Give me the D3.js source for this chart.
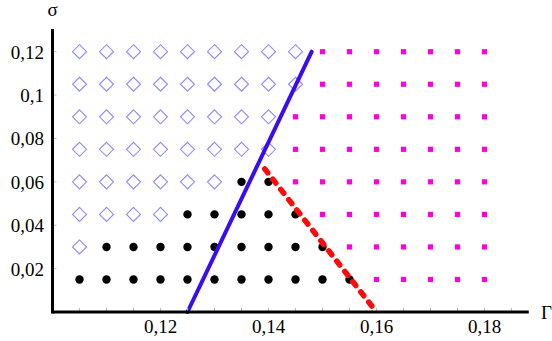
<!DOCTYPE html>
<html>
<head>
<meta charset="utf-8">
<script src="https://cdn.jsdelivr.net/npm/d3@7"></script>
<style>
  html, body { margin: 0; padding: 0; background: #fff; }
  svg { display: block; }
  text { font-family: "Liberation Serif", "DejaVu Serif", serif; fill: #000; }
</style>
</head>
<body>
<svg id="chart" width="552" height="341"></svg>
<script>
// Grid of sampled parameters (Γ across, σ up)
const gammaValues = [0.105, 0.11, 0.115, 0.12, 0.125, 0.13, 0.135, 0.14,
                     0.145, 0.15, 0.155, 0.16, 0.165, 0.17, 0.175, 0.18];
const sigmaValues = [0.12, 0.105, 0.09, 0.075, 0.06, 0.045, 0.03, 0.015];

// Regime of each grid point, one string per σ row (top to bottom):
// D = open diamond, B = black dot, M = magenta square
const regimeRows = [
  "DDDDDDDDDMMMMMMM",
  "DDDDDDDDDMMMMMMM",
  "DDDDDDDDMMMMMMMM",
  "DDDDDDDDMMMMMMMM",
  "DDDDDDBBMMMMMMMM",
  "DDDDBBBBBMMMMMMM",
  "DBBBBBBBBBMMMMMM",
  "BBBBBBBBBBBMMMMM"
];

// Boundary curves
const blueBoundary = [[0.125, 0], [0.148, 0.12]];
const redBoundary = [[0.1393, 0.066], [0.16, 0]];

// Axis ticks and labels
const xLabelTicks = [0.12, 0.14, 0.16, 0.18];
const xMinorTicks = d3.range(0.1, 0.1851, 0.005);
const yLabelTicks = [0.02, 0.04, 0.06, 0.08, 0.1, 0.12];
const xAxisEnd = 0.1882;
const yAxisEnd = 0.1305;

const svg = d3.select("#chart");
const x = d3.scaleLinear().domain([0.1, 0.18]).range([52.5, 484.5]);
const y = d3.scaleLinear().domain([0, 0.12]).range([312, 51.7]);

const fmt = v => d3.format("")(+v.toFixed(2)).replace(".", ",");

// Points
const points = [];
sigmaValues.forEach((s, i) => {
  gammaValues.forEach((g, j) => {
    points.push({ g, s, kind: regimeRows[i][j] });
  });
});

const plot = svg.append("g");

// Diamonds
plot.selectAll("path.diamond")
  .data(points.filter(p => p.kind === "D"))
  .join("path")
  .attr("class", "diamond")
  .attr("d", d => {
    const cx = x(d.g), cy = y(d.s), r = 7;
    return `M${cx},${cy - r}L${cx + r},${cy}L${cx},${cy + r}L${cx - r},${cy}Z`;
  })
  .attr("fill", "none")
  .attr("stroke", "#8a8aff")
  .attr("stroke-width", 1.1);

// Black dots
plot.selectAll("circle.dot")
  .data(points.filter(p => p.kind === "B"))
  .join("circle")
  .attr("class", "dot")
  .attr("cx", d => x(d.g))
  .attr("cy", d => y(d.s))
  .attr("r", 4.2)
  .attr("fill", "#000");

// Magenta squares
plot.selectAll("rect.sq")
  .data(points.filter(p => p.kind === "M"))
  .join("rect")
  .attr("class", "sq")
  .attr("x", d => x(d.g) - 2.6)
  .attr("y", d => y(d.s) - 2.6)
  .attr("width", 5.2)
  .attr("height", 5.2)
  .attr("fill", "#ff00dd");

const line = d3.line().x(d => x(d[0])).y(d => y(d[1]));

plot.append("path")
  .attr("d", line(blueBoundary))
  .attr("fill", "none")
  .attr("stroke", "#3a0cf5")
  .attr("stroke-width", 4)
  .attr("stroke-linecap", "round");

plot.append("path")
  .attr("d", line(redBoundary))
  .attr("fill", "none")
  .attr("stroke", "#ff0a0a")
  .attr("stroke-width", 5.5)
  .attr("stroke-linecap", "round")
  .attr("stroke-dasharray", "5,8");

// Axes
const axes = svg.append("g");

// small inward tick marks
axes.selectAll("line.xt")
  .data(xMinorTicks)
  .join("line")
  .attr("x1", d => x(d)).attr("x2", d => x(d))
  .attr("y1", y(0)).attr("y2", y(0) - 4)
  .attr("stroke", "#bbb").attr("stroke-width", 1);

axes.selectAll("line.yt")
  .data(yLabelTicks)
  .join("line")
  .attr("x1", x(0.1)).attr("x2", x(0.1) + 4)
  .attr("y1", d => y(d)).attr("y2", d => y(d))
  .attr("stroke", "#bbb").attr("stroke-width", 1);

axes.append("line")
  .attr("x1", x(0.1)).attr("x2", x(xAxisEnd))
  .attr("y1", y(0)).attr("y2", y(0))
  .attr("stroke", "#000").attr("stroke-width", 3);

axes.append("line")
  .attr("x1", x(0.1)).attr("x2", x(0.1))
  .attr("y1", y(0) + 1.5).attr("y2", y(yAxisEnd))
  .attr("stroke", "#000").attr("stroke-width", 3);

axes.selectAll("text.xl")
  .data(xLabelTicks)
  .join("text")
  .attr("x", d => x(d))
  .attr("y", 333)
  .attr("text-anchor", "middle")
  .attr("font-size", 19)
  .text(fmt);

axes.selectAll("text.yl")
  .data(yLabelTicks)
  .join("text")
  .attr("x", 44)
  .attr("y", d => y(d) + 7)
  .attr("text-anchor", "end")
  .attr("font-size", 19)
  .text(fmt);

axes.append("text")
  .attr("x", 541).attr("y", 319)
  .attr("font-size", 19)
  .text("Γ");

axes.append("text")
  .attr("x", x(0.1)).attr("y", 16)
  .attr("text-anchor", "middle")
  .attr("font-size", 19)
  .text("σ");
</script>
</body>
</html>
